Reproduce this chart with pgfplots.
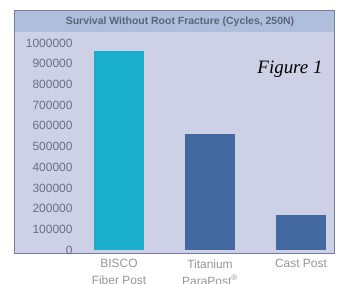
\documentclass[border=0pt]{standalone}
\usepackage{pgfplots}
\pgfplotsset{compat=1.18}
\usepackage{fontspec}
\setmainfont{Liberation Sans}
\newfontfamily\figserif{Liberation Serif}
\definecolor{panelbg}{RGB}{206,208,229}
\definecolor{titlebg}{RGB}{176,190,222}
\definecolor{titletext}{RGB}{90,100,120}
\definecolor{cyanbar}{RGB}{24,174,204}
\definecolor{bluebar}{RGB}{68,104,160}
\definecolor{ticklab}{RGB}{105,110,135}
\definecolor{catlab}{RGB}{150,150,150}
\definecolor{border}{RGB}{115,125,160}
\begin{document}
\begin{tikzpicture}
\useasboundingbox (0,0) rectangle (337bp,-284bp);
\fill[panelbg] (14bp,-10bp) rectangle (334bp,-253bp);
\fill[titlebg] (14bp,-10bp) rectangle (334bp,-32bp);
\draw[border, line width=0.8bp] (14bp,-253bp) rectangle (334bp,-10bp);
\node[font=\bfseries\fontsize{10.5}{12}\selectfont, text=titletext] at (180bp,-22bp) {Survival Without Root Fracture (Cycles, 250N)};
\begin{axis}[
  at={(76bp,-250bp)}, anchor=south west,
  width=258bp, height=207bp, scale only axis,
  xmin=-0.4725, xmax=2.3626, ymin=0, ymax=1000000,
  axis line style={draw=none},
  ytick={0,100000,200000,300000,400000,500000,600000,700000,800000,900000,1000000},
  scaled y ticks=false,
  yticklabel style={/pgf/number format/fixed, /pgf/number format/1000 sep={}, /pgf/number format/assume math mode=true, font=\fontsize{12}{14}\selectfont, text=ticklab},
  major tick length=0pt,
  xtick={0,1,2},
  xticklabels={BISCO\\Fiber Post, Titanium\\ParaPost\textsuperscript{®}, Cast Post},
  xticklabel style={align=center, font=\fontsize{12}{17}\selectfont, text=catlab, yshift=-6bp},
  clip=false,
]
\addplot[ybar, bar width=50bp, bar shift=0pt, fill=cyanbar, draw=none] coordinates {(0,960000)};
\addplot[ybar, bar width=50bp, bar shift=0pt, fill=bluebar, draw=none] coordinates {(1,560000)};
\addplot[ybar, bar width=50bp, bar shift=0pt, fill=bluebar, draw=none] coordinates {(2,170000)};
\end{axis}
\node[font=\figserif\itshape\fontsize{19}{21}\selectfont, anchor=base east] at (326bp,-73bp) {Figure 1};
\end{tikzpicture}
\end{document}
